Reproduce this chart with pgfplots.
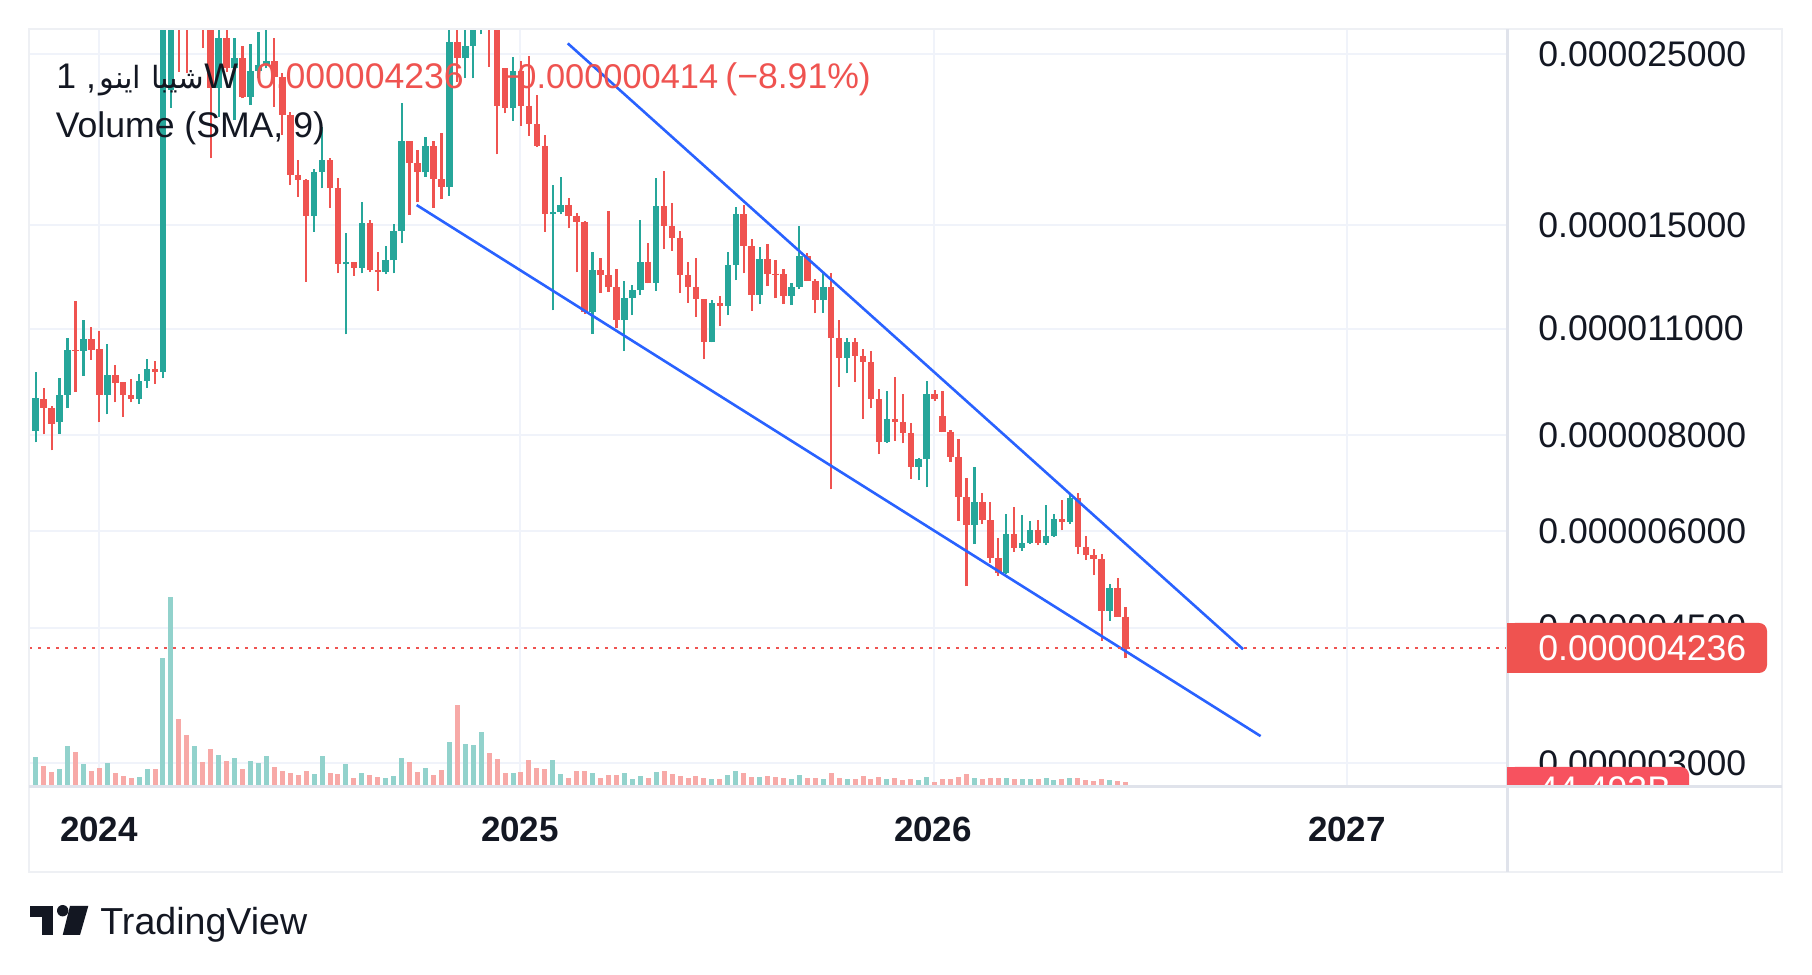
\documentclass[border=0pt]{standalone}
\usepackage{fontspec}
\setmainfont{Liberation Sans}
\newfontfamily\arabicfont[Script=Arabic,Scale=0.86]{DejaVu Sans}
\TeXXeTstate=1
\usepackage{pgfplots}
\usepackage{pgfplotstable}
\pgfplotsset{compat=1.18}
\definecolor{up}{HTML}{26A69A}
\definecolor{dn}{HTML}{EF5350}
\definecolor{volup}{HTML}{92D2CC}
\definecolor{voldn}{HTML}{F7A9A7}
\definecolor{tvblue}{HTML}{2962FF}
\definecolor{gridc}{HTML}{F0F3FA}
\definecolor{framec}{HTML}{E0E3EB}
\definecolor{framel}{HTML}{EEF0F4}
\definecolor{txt}{HTML}{131722}
\definecolor{volbox}{HTML}{F7525F}
\newcommand\lbl{\fontsize{17.8}{21}\selectfont}
\newcommand\lbls{\fontsize{17.2}{21}\selectfont}
\newcommand\yearf{\fontsize{17.5}{21}\selectfont\bfseries}
\newcommand\logof{\fontsize{18.8}{22}\selectfont}

% weekly candles: price in units of 1e-9, volume in billions
\pgfplotstableread{
i o h l c v
0 8102 9673 7833 8949 473
1 8915 9221 8022 8670 317
2 8686 8739 7647 8281 217
3 8315 9501 8037 9022 267
4 9022 10708 8670 10322 651
5 10322 11950 9111 10300 550
6 10300 11290 9559 10667 350
7 10667 11056 10026 10322 234
8 10352 10925 8315 9022 284
9 9022 10508 8517 9579 367
10 9579 9870 8828 9343 200
11 9371 9388 8455 9022 150
12 9022 9464 8828 8915 117
13 8915 9616 8791 9408 133
14 9408 10047 9221 9751 267
15 9751 9988 9332 9673 267
16 9673 31000 9484 29500 2118
17 22460 33000 21301 30000 3141
18 32000 34000 23723 28500 1101
19 28500 30000 23632 27500 834
20 27500 33000 27200 31000 651
21 31000 32000 25466 28000 384
22 28000 29500 18310 22593 600
23 22593 27500 20735 26212 500
24 26212 27300 23700 23963 400
25 23963 26260 20533 24690 450
26 24690 25640 21900 22013 267
27 22013 25747 21475 23773 400
28 23773 26736 23257 24203 367
29 24203 26873 23963 24494 484
30 24494 26212 21364 23369 300
31 23369 23610 19633 20843 234
32 20843 21010 16907 17420 200
33 17420 18219 16325 17161 167
34 17161 17210 12660 15423 234
35 15423 17734 14702 17592 183
36 17592 20124 16739 18219 484
37 18219 18310 15796 16739 200
38 16739 17279 12984 13337 183
39 13337 14632 10818 13429 350
40 13429 13440 12890 13202 117
41 13202 16053 12984 15077 200
42 15077 15226 13045 13112 167
43 13112 13849 12324 13045 133
44 13045 14087 12944 13500 117
45 13500 15045 12984 14733 150
46 14733 21584 14201 19283 450
47 19283 19300 15456 18040 384
48 18040 18772 16053 17560 217
49 17560 19498 17330 18997 284
50 18997 19283 15796 17196 167
51 17196 19733 16198 16820 250
52 16820 27300 16375 25948 717
53 25948 27300 23023 24690 1334
54 24690 27300 23279 25640 684
55 25640 29000 23257 28000 667
56 28000 31000 26529 30000 884
57 30000 31000 24078 27500 534
58 27500 28500 18532 21430 434
59 23963 23963 20949 21262 200
60 21262 24809 20490 23794 200
61 23794 24494 20186 21430 217
62 21430 24862 19591 20270 417
63 20270 22128 18950 19014 284
64 19014 19633 14702 15487 267
65 15487 16907 11623 15608 417
66 15608 17316 15487 15925 183
67 15925 16246 14851 15423 117
68 15423 15534 13022 15121 234
69 15121 15194 11495 11574 234
70 11574 13849 10828 13112 195
71 13112 13603 12250 12918 111
72 12918 15641 12287 12450 161
73 12450 13151 11012 11290 161
74 11290 12687 10300 12046 195
75 12046 12537 11461 12350 95
76 12350 15226 12167 13441 145
77 13441 14201 12600 12622 111
78 12622 17247 12324 15876 211
79 15876 17629 13961 14955 228
80 14955 16033 13891 14440 178
81 14440 14733 12250 12918 145
82 12918 13441 11889 12472 111
83 12472 13603 11402 12010 145
84 12010 12030 10047 10581 111
85 10581 11986 10560 11869 95
86 11869 12130 11089 11783 95
87 11783 13849 11461 13310 161
88 13310 15842 12725 15501 228
89 15501 15925 12984 14087 195
90 14087 14371 11609 12167 128
91 12167 14032 11843 13537 128
92 13537 14158 12498 12968 145
93 12968 13510 12046 12944 128
94 12944 13139 11843 12141 111
95 12141 12622 11809 12472 95
96 12472 14955 12386 13672 161
97 13672 13784 12680 12698 111
98 12698 12751 11519 11986 111
99 11986 12984 11539 12472 95
100 12472 13006 6806 10688 195
101 10688 11290 9248 10068 111
102 10068 10688 9628 10571 95
103 10571 10688 9388 10138 95
104 10138 10352 8405 9967 145
105 9967 10291 8670 8906 95
106 8906 9176 7563 7847 128
107 7847 9131 7820 8398 95
108 8398 9530 7870 8330 111
109 8330 9049 7810 8060 78
110 8060 8305 7025 7281 95
111 7281 7466 6998 7444 78
112 7444 9408 6847 9049 128
113 9049 9158 8870 8906 44
114 8473 9131 8070 8085 95
115 8085 8126 7391 7502 95
116 7502 7902 6196 6644 128
117 6644 7033 5097 6117 178
118 6117 7269 5778 6546 111
119 6546 6724 6135 6209 95
120 6209 6546 5464 5536 111
121 5536 5878 5256 5303 111
122 5303 6321 5290 5954 111
123 5954 6460 5647 5715 95
124 5715 6302 5664 5791 95
125 5791 6190 5780 6026 95
126 6026 6209 5761 5791 95
127 5791 6494 5761 5919 111
128 5919 6321 5905 6227 78
129 6227 6591 6026 6177 95
130 6177 6724 6135 6636 111
131 6636 6736 5608 5732 111
132 5732 5924 5509 5592 78
133 5592 5687 5267 5526 61
134 5526 5608 4328 4734 95
135 4734 5127 4594 5061 78
136 5061 5214 4650 4650 61
137 4650 4782 4105 4236 44.493
}\candles

\pgfplotsset{
  paneaxis/.style={
    at={(14.5pt,94pt)}, anchor=south west, scale only axis,
    width=739pt, height=379pt,
    xmin=-0.842, xmax=184.95,
  },
}

\begin{document}
\begin{tikzpicture}
\fill[white] (0pt,0pt) rectangle (906pt,487.5pt);

% grid (log price axis)
\begin{axis}[paneaxis,
  ymode=log, ymin=2795, ymax=26961,
  xtick={7.96,60.93,112.9,164.8}, xticklabels={},
  ytick={3000,4500,6000,8000,11000,15000,25000}, yticklabels={},
  grid=major, major grid style={line width=1pt, draw=gridc},
  axis line style={draw=none}, major tick length=0pt]
\addplot[draw=none, forget plot] coordinates {(0,5000)};
\end{axis}

% volume
\begin{axis}[paneaxis, ymin=-33.4, ymax=12610, hide axis]
\pgfplotsforeachungrouped \r in {0,...,137}{%
  \pgfplotstablegetelem{\r}{i}\of\candles \let\ci\pgfplotsretval
  \pgfplotstablegetelem{\r}{o}\of\candles \let\co\pgfplotsretval
  \pgfplotstablegetelem{\r}{c}\of\candles \let\cc\pgfplotsretval
  \pgfplotstablegetelem{\r}{v}\of\candles \let\cv\pgfplotsretval
  \ifnum\cc<\co\relax \def\vcol{voldn}\else\def\vcol{volup}\fi
  \edef\doplot{\noexpand\addplot[\vcol, line width=2.5pt, forget plot] coordinates {(\ci,0) (\ci,\cv)};}%
  \doplot
}
\end{axis}

% candles
\begin{axis}[paneaxis, ymode=log, ymin=2795, ymax=26961, hide axis]
\pgfplotsforeachungrouped \r in {0,...,137}{%
  \pgfplotstablegetelem{\r}{i}\of\candles \let\ci\pgfplotsretval
  \pgfplotstablegetelem{\r}{o}\of\candles \let\co\pgfplotsretval
  \pgfplotstablegetelem{\r}{h}\of\candles \let\ch\pgfplotsretval
  \pgfplotstablegetelem{\r}{l}\of\candles \let\cl\pgfplotsretval
  \pgfplotstablegetelem{\r}{c}\of\candles \let\cc\pgfplotsretval
  \ifnum\cc<\co\relax \def\ccol{dn}\else\def\ccol{up}\fi
  \edef\doplot{%
    \noexpand\addplot[\ccol, line width=1.1pt, forget plot] coordinates {(\ci,\cl) (\ci,\ch)};
    \noexpand\addplot[\ccol, line width=3.25pt, forget plot] coordinates {(\ci,\co) (\ci,\cc)};
  }%
  \doplot
}
\addplot[tvblue, line width=1.3pt, forget plot] coordinates {(66.88,25826) (151.77,4220)};
\addplot[tvblue, line width=1.3pt, forget plot] coordinates {(47.89,15924) (153.98,3254)};
\addplot[dn, line width=1.3pt, dash pattern=on 1.45pt off 3.05pt, forget plot] coordinates {(-0.842,4236) (184.95,4236)};
\end{axis}

\begin{scope}[x=0.5pt,y=0.5pt]
% frame
\draw[framel, line width=1pt] (29,103) rectangle (1782,946);
\draw[framec, line width=1.5pt] (1507,103) -- (1507,946);

% price scale labels
\foreach \yy/\lab in {54.4/0.000025000, 225/0.000015000, 328.7/0.000011000, 435.2/0.000008000, 531.4/0.000006000, 627.6/0.000004500, 763.3/0.000003000}{
  \node[anchor=west, inner sep=0, text=txt, font=\lbl] at (1538,{975-\yy}) {\lab};
}
% last price label
\fill[dn, rounded corners=4pt] (1507,302) rectangle (1767,352);
\fill[dn] (1507,302) rectangle (1530,352);
\node[anchor=west, inner sep=0, text=white, font=\lbl] at (1538,327) {0.000004236};
% volume label (clipped at pane bottom)
\begin{scope}
\clip (1507,189) rectangle (1782,946);
\fill[volbox, rounded corners=4pt] (1507,163) rectangle (1689,208);
\fill[volbox] (1507,163) rectangle (1530,208);
\node[anchor=west, inner sep=0, text=white, font=\lbl] at (1538,185.5) {44.493B};
\end{scope}
\draw[framec, line width=1.5pt] (29,188) -- (1782,188);

% time labels
\node[anchor=base, inner sep=0, text=txt, font=\yearf] at (99,133) {2024};
\node[anchor=base, inner sep=0, text=txt, font=\yearf] at (520,133) {2025};
\node[anchor=base, inner sep=0, text=txt, font=\yearf] at (933,133) {2026};
\node[anchor=base, inner sep=0, text=txt, font=\yearf] at (1347,133) {2027};

% legend
\node[anchor=base west, inner sep=0, text=txt, font=\lbl] at (56,886.7) {1 ,};
\node[anchor=base east, inner sep=0, text=txt, font=\lbl] at (205,886.7) {\arabicfont\beginR شيبا اينو\endR};
\node[anchor=base west, inner sep=0, text=txt, font=\lbl] at (204,886.7) {W};
\node[anchor=base west, inner sep=0, text=dn, font=\lbl] at (255.5,886.7) {0.000004236};
\node[anchor=base west, inner sep=0, text=dn, font=\lbls] at (501,886.7) {−};
\node[anchor=base west, inner sep=0, text=dn, font=\lbls] at (517,886.7) {0.000000414};
\node[anchor=base west, inner sep=0, text=dn, font=\lbl] at (725,886.7) {(−8.91\%)};
\node[anchor=base west, inner sep=0, text=txt, font=\lbl] at (55.5,837) {Volume (SMA, 9)};

% TradingView logo
\fill[txt] (30,57.7) rectangle (53.3,69);
\fill[txt] (41.7,40) rectangle (53.3,69);
\fill[txt] (62.7,64.3) circle (5.7);
\fill[txt] (62.7,40) -- (80,40) -- (88.3,69) -- (70,69) -- cycle;
\node[anchor=base west, inner sep=0, text=txt, font=\logof] at (100,40) {TradingView};
\end{scope}
\end{tikzpicture}
\end{document}
